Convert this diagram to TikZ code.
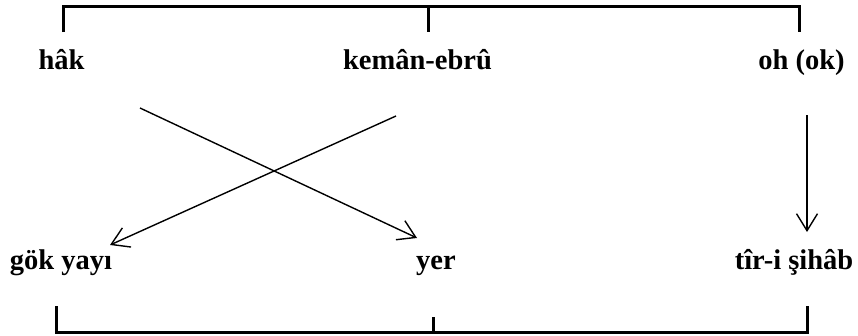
\documentclass[tikz,border=0pt]{standalone}
\usepackage{fontspec}
\setmainfont{Liberation Serif}
\usepackage{tikz}
\usetikzlibrary{positioning,arrows.meta}

\begin{document}
\begin{tikzpicture}[x=1pt, y=-1pt,
  kelime/.style={anchor=base, inner sep=0pt,
    font=\bfseries\fontsize{28.5}{32}\selectfont},
  okcizgi/.style={-{Straight Barb[length=17pt,width=21pt]}, line width=1.4pt},
  kose/.style={line width=3pt}
]
\useasboundingbox (0,0) rectangle (858,335);
% ust satir
\node[kelime] (hak) at (61.5,69) {hâk};
\node[kelime] (keman) at (417.5,69) {kemân-ebrû};
\node[kelime] (oh) at (801.5,69) {oh (ok)};
% alt satir
\node[kelime] (gok) at (61,269) {gök yayı};
\node[kelime] (yer) at (436,269) {yer};
\node[kelime] (tir) at (794,269) {tîr-i şihâb};
% ok uclari
\coordinate (hakcik) at (140,108);
\coordinate (yergir) at (417,238);
\coordinate (kemancik) at (396,116);
\coordinate (gokgir) at (110,245);
\coordinate (ohcik) at (807,115);
\coordinate (tirgir) at (807,232);
\draw[okcizgi] (hakcik) -- (yergir);
\draw[okcizgi] (kemancik) -- (gokgir);
\draw[okcizgi] (ohcik) -- (tirgir);
% koseli cizgiler
\draw[kose] (63,32) -- (63,6.5) -- (799,6.5) -- (799,32);
\draw[kose] (428,6.5) -- (428,32);
\draw[kose] (56.7,306) -- (56.7,332.7) -- (807.3,332.7) -- (807.3,306);
\draw[kose] (433,332.7) -- (433,316.7);
\end{tikzpicture}
\end{document}
